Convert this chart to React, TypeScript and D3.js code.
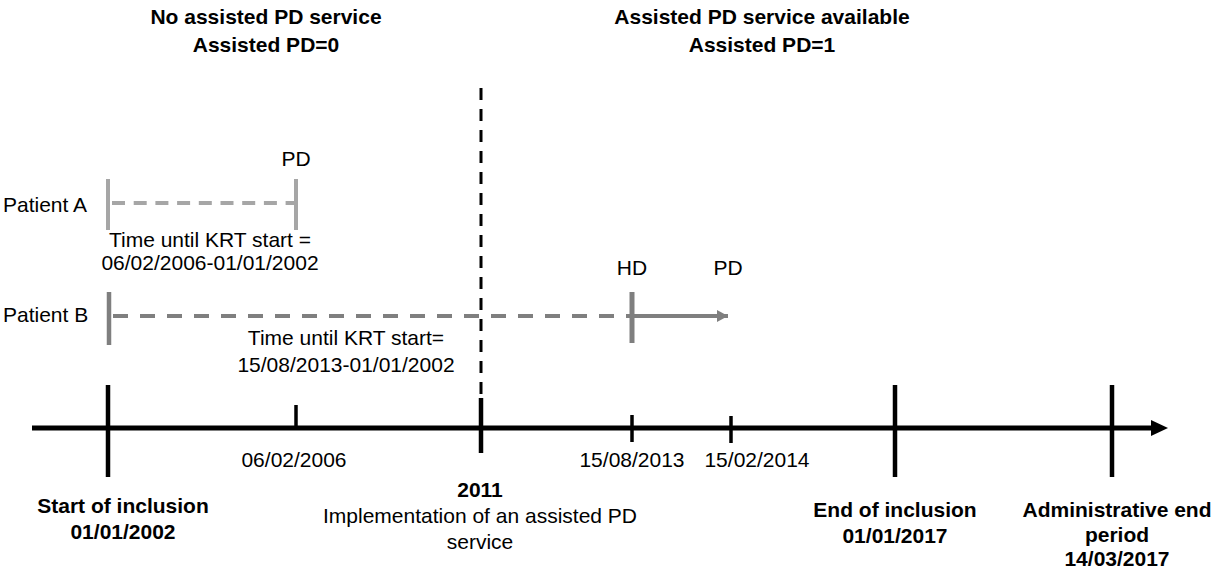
import React from "react";
import * as d3 from "d3";

// ---- data ----
const eventDates = ["01/01/2002", "06/02/2006", "01/01/2011", "15/08/2013", "15/02/2014", "01/01/2017", "14/03/2017"];
const majorEvents = [
  { date: "01/01/2002", lines: ["Start of inclusion", "01/01/2002"], boldAll: true },
  { date: "01/01/2011", lines: ["2011", "Implementation of an assisted PD", "service"], boldAll: false },
  { date: "01/01/2017", lines: ["End of inclusion", "01/01/2017"], boldAll: true },
  { date: "14/03/2017", lines: ["Administrative end", "period", "14/03/2017"], boldAll: true },
];
const minorEvents = ["06/02/2006", "15/08/2013", "15/02/2014"];
const periodHeaders = [
  { lines: ["No assisted PD service", "Assisted PD=0"], from: "01/01/2002", to: "01/01/2011" },
  { lines: ["Assisted PD service available", "Assisted PD=1"], from: "01/01/2011", to: "01/01/2017" },
];
const patientA = { name: "Patient A", start: "01/01/2002", event: "06/02/2006", eventLabel: "PD", note: ["Time until KRT start =", "06/02/2006-01/01/2002"] };
const patientB = { name: "Patient B", start: "01/01/2002", event: "15/08/2013", eventLabel: "HD", next: "15/02/2014", nextLabel: "PD", note: ["Time until KRT start=", "15/08/2013-01/01/2002"] };

const parse = d3.timeParse("%d/%m/%Y");

export default function App() {
  const W = 1214, H = 570;
  // schematic (non-proportional) piecewise time scale
  const x = d3.scaleTime<number, number>()
    .domain(eventDates.map((d) => parse(d) as Date))
    .range([108, 296, 481, 632, 731, 895, 1112]);
  const X = (s: string) => x(parse(s) as Date);

  const font = "Liberation Sans, Arial, sans-serif";
  const fs = 21;
  const axisY = 428;
  const black = "#000";
  const grayA = "#a6a6a6";
  const grayB = "#7f7f7f";

  const majorX = majorEvents.map((e) => X(e.date));
  const minorTickSpec: Record<string, [number, number]> = {
    "06/02/2006": [405, 430],
    "15/08/2013": [415, 442],
    "15/02/2014": [416, 443],
  };
  const minorLabelDx: Record<string, number> = { "06/02/2006": -2, "15/08/2013": 0, "15/02/2014": 26 };

  const headerCenters = [266, 762];

  const yA = 203, yB = 316;

  return (
    <svg width={W} height={H} style={{ position: "absolute", left: 0, top: 0, background: "#fff" }} fontFamily={font}>
      <defs>
        <marker id="arrB" viewBox="0 0 10 10" refX="10" refY="5" markerWidth="11" markerHeight="12" markerUnits="userSpaceOnUse" orient="auto" preserveAspectRatio="none">
          <path d="M0,0 L10,5 L0,10 Z" fill={grayB} />
        </marker>
      </defs>

      {/* period headers */}
      {periodHeaders.map((h, i) => (
        <text key={i} x={headerCenters[i]} textAnchor="middle" fontWeight="bold" fontSize={fs} fill={black}>
          {h.lines.map((l, j) => (
            <tspan key={j} x={headerCenters[i]} y={24 + j * 28}>{l}</tspan>
          ))}
        </text>
      ))}

      {/* implementation dashed line */}
      <line x1={X("01/01/2011")} x2={X("01/01/2011")} y1={88} y2={398} stroke={black} strokeWidth={3} strokeDasharray="12,9" />

      {/* patient A */}
      <text x={3} y={yA + 9} fontSize={fs} fill={black}>{patientA.name}</text>
      <line x1={X(patientA.start)} x2={X(patientA.event)} y1={yA} y2={yA} stroke={grayA} strokeWidth={4} strokeDasharray="13,8.7" strokeDashoffset={-4} />
      <line x1={X(patientA.start)} x2={X(patientA.start)} y1={179} y2={230} stroke={grayA} strokeWidth={4} />
      <line x1={X(patientA.event)} x2={X(patientA.event)} y1={179} y2={230} stroke={grayA} strokeWidth={4} />
      <text x={X(patientA.event)} y={166} textAnchor="middle" fontSize={fs} fill={black}>{patientA.eventLabel}</text>
      {patientA.note.map((l, j) => (
        <text key={j} x={210} y={247 + j * 23} textAnchor="middle" fontSize={fs} fill={black}>{l}</text>
      ))}

      {/* patient B */}
      <text x={3} y={yB + 6} fontSize={fs} fill={black}>{patientB.name}</text>
      <line x1={X(patientB.start)} x2={X(patientB.event)} y1={yB} y2={yB} stroke={grayB} strokeWidth={4} strokeDasharray="15,12" strokeDashoffset={-5} />
      <line x1={X(patientB.start) + 1} x2={X(patientB.start) + 1} y1={292} y2={345} stroke={grayB} strokeWidth={4.5} />
      <line x1={X(patientB.event)} x2={X(patientB.event)} y1={292} y2={343} stroke={grayB} strokeWidth={5} />
      <line x1={X(patientB.event)} x2={X(patientB.next) - 3} y1={yB} y2={yB} stroke={grayB} strokeWidth={4} markerEnd="url(#arrB)" />
      <text x={X(patientB.event)} y={275} textAnchor="middle" fontSize={fs} fill={black}>{patientB.eventLabel}</text>
      <text x={X(patientB.next) - 3} y={275} textAnchor="middle" fontSize={fs} fill={black}>{patientB.nextLabel}</text>
      {patientB.note.map((l, j) => (
        <text key={j} x={346} y={345 + j * 27} textAnchor="middle" fontSize={fs} fill={black}>{l}</text>
      ))}

      {/* main axis */}
      <line x1={32} x2={1153} y1={axisY} y2={axisY} stroke={black} strokeWidth={5} />
      <path d={`M1151,${axisY - 8} L1168,${axisY} L1151,${axisY + 8} Z`} fill={black} />

      {/* major ticks */}
      {majorEvents.map((e, i) => {
        const isImpl = e.date === "01/01/2011";
        const y1 = isImpl ? 398 : 385;
        const y2 = isImpl ? 453 : 477;
        return <line key={i} x1={majorX[i]} x2={majorX[i]} y1={y1} y2={y2} stroke={black} strokeWidth={4.5} />;
      })}

      {/* minor ticks + labels */}
      {minorEvents.map((d, i) => {
        const [y1, y2] = minorTickSpec[d];
        return (
          <g key={i}>
            <line x1={X(d)} x2={X(d)} y1={y1} y2={y2} stroke={black} strokeWidth={3.5} />
            <text x={X(d) + minorLabelDx[d]} y={467} textAnchor="middle" fontSize={fs} fill={black}>{d}</text>
          </g>
        );
      })}

      {/* major labels */}
      {majorEvents.map((e, i) => {
        const dx = e.date === "01/01/2002" ? 15 : e.date === "14/03/2017" ? 5 : e.date === "01/01/2011" ? -1 : 0;
        const y0 = e.date === "01/01/2011" ? 497 : e.date === "01/01/2002" ? 513 : 517;
        const step = e.date === "14/03/2017" ? 24.5 : 26;
        return (
          <text key={i} textAnchor="middle" fontSize={fs} fill={black}>
            {e.lines.map((l, j) => (
              <tspan key={j} x={majorX[i] + dx} y={y0 + j * step} fontWeight={e.boldAll || j === 0 ? "bold" : "normal"}>{l}</tspan>
            ))}
          </text>
        );
      })}
    </svg>
  );
}
